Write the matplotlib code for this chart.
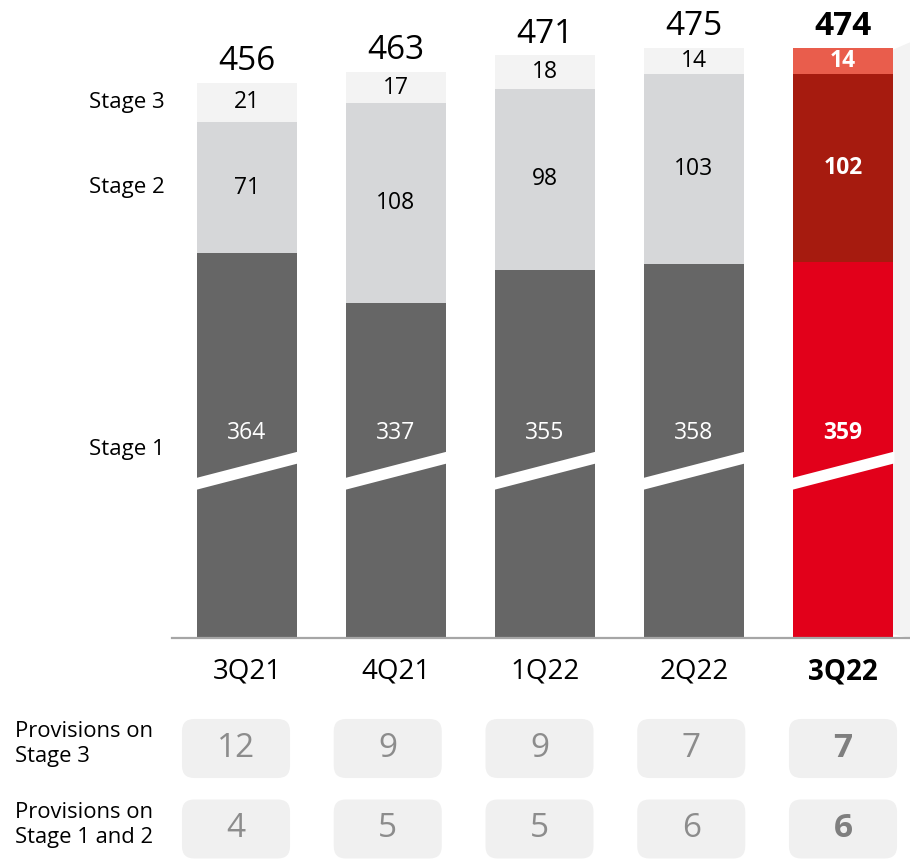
import matplotlib.pyplot as plt
from matplotlib.patches import FancyBboxPatch, Polygon

plt.rcParams['font.family'] = ['Open Sans', 'DejaVu Sans']

# === Data ===
quarters = ["3Q21", "4Q21", "1Q22", "2Q22", "3Q22"]
stage1 = [364, 337, 355, 358, 359]
stage2 = [71, 108, 98, 103, 102]
stage3 = [21, 17, 18, 14, 14]
totals = [456, 463, 471, 475, 474]
prov_stage3 = [12, 9, 9, 7, 7]
prov_stage12 = [4, 5, 5, 6, 6]
row_labels = ["Provisions on\nStage 3", "Provisions on\nStage 1 and 2"]
stage_labels = ["Stage 1", "Stage 2", "Stage 3"]

CUT = 156  # broken axis: this much is removed from the Stage 1 bars

grey_cols = ["#666666", "#d6d7d9", "#f3f3f3"]
red_cols = ["#e2001a", "#a61b0f", "#e95d4c"]

W, H = 910, 859
fig = plt.figure(figsize=(W / 100, H / 100), dpi=100)

# === Bars ===
ax = fig.add_axes([172 / W, 221 / H, (W - 172) / W, 638 / H])
ax.set_xlim(-0.503, 4.45)
ax.set_ylim(0, 638 / 1.85)
bw = 0.671
x = list(range(len(quarters)))
s1 = [v - CUT for v in stage1]
bot3 = [a + b for a, b in zip(s1, stage2)]
last = len(quarters) - 1

# light shadow to the right of the highlighted bar
ax.add_patch(Polygon([(last + bw / 2, 2), (4.45, 0), (4.45, 322), (last + bw / 2, 318)],
                     closed=True, facecolor="#f3f3f3", edgecolor="none", zorder=0))

for i in x:
    cols = red_cols if i == last else grey_cols
    ax.bar(i, s1[i], bw, color=cols[0], zorder=2)
    ax.bar(i, stage2[i], bw, bottom=s1[i], color=cols[1], zorder=2)
    ax.bar(i, stage3[i], bw, bottom=bot3[i], color=cols[2], zorder=2)

    # break marker
    xl, xr = i - bw / 2 - 0.01, i + bw / 2 + 0.01
    ax.add_patch(Polygon([(xl, 80.0), (xr, 94.4), (xr, 100.8), (xl, 86.4)],
                         closed=True, facecolor="white", edgecolor="none", zorder=3))

    bold = "bold" if i == last else "normal"
    c1 = "white"
    c23 = "white" if i == last else "black"
    ax.text(i, 110.8, str(stage1[i]), ha="center", va="center", fontsize=16.5,
            color=c1, fontweight=bold, zorder=4)
    ax.text(i, s1[i] + stage2[i] / 2, str(stage2[i]), ha="center", va="center",
            fontsize=16.5, color=c23, fontweight=bold, zorder=4)
    ax.text(i, bot3[i] + stage3[i] / 2, str(stage3[i]), ha="center", va="center",
            fontsize=16.5, color=c23, fontweight=bold, zorder=4)
    ax.annotate(str(totals[i]), (i, bot3[i] + stage3[i]), xytext=(0, 9),
                textcoords="offset points", ha="center", va="baseline",
                fontsize=24, color="black", fontweight=bold)

# stage labels at the left, aligned with the first bar
lab_y = [102, s1[0] + stage2[0] / 2, bot3[0] + stage3[0] / 2]
for lab, yy in zip(stage_labels, lab_y):
    ax.text(-0.55, yy, lab, ha="right", va="center", fontsize=16, color="black")

ax.set_xticks(x)
ax.set_xticklabels(quarters, fontsize=20)
ax.get_xticklabels()[last].set_fontweight("bold")
ax.tick_params(axis="x", length=0, pad=14)
ax.set_yticks([])
for sp in ["top", "right", "left"]:
    ax.spines[sp].set_visible(False)
ax.spines["bottom"].set_color("#a6a6a6")
ax.spines["bottom"].set_linewidth(1.6)
ax.patch.set_alpha(0)

# === Provisions table ===
tx = fig.add_axes([0, 0, 1, 159 / H])
tx.set_xlim(-236 / 151.75, (W - 236) / 151.75)
tx.set_ylim(1.3727, -0.6025)
tx.axis("off")
bwt, bht = 0.712, 0.733
for r, vals in enumerate([prov_stage3, prov_stage12]):
    tx.text(-1.456, r - 0.05, row_labels[r], ha="left", va="center", fontsize=15.8,
            color="black", linespacing=1.25)
    for i, v in enumerate(vals):
        tx.add_patch(FancyBboxPatch((i - bwt / 2, r - bht / 2), bwt, bht,
                                    boxstyle="round,pad=0,rounding_size=0.08",
                                    mutation_aspect=151.75 / 80.5,
                                    facecolor="#f0f0f0", edgecolor="none"))
        tx.text(i, r, str(v), ha="center", va="center", fontsize=24,
                color="#7f7f7f" if i == last else "#8c8c8c",
                fontweight="bold" if i == last else "normal")

fig.savefig("out.png", dpi=100)
